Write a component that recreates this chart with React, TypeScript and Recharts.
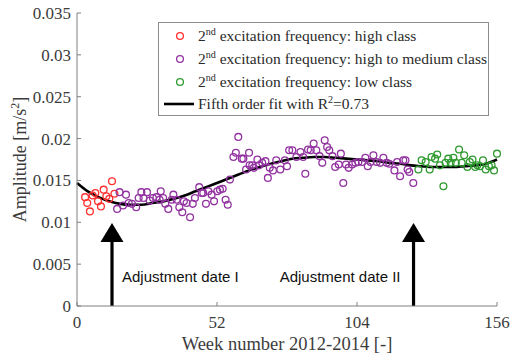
import {
  ComposedChart,
  Line,
  ReferenceLine,
  Scatter,
  XAxis,
  YAxis,
} from "recharts";

const SERIF = '"Liberation Serif", "Times New Roman", serif';
const SANS = '"Liberation Sans", Arial, sans-serif';
const RED = "#ff3030";
const PURPLE = "#9232a0";
const GREEN = "#2f9a2f";
const AXIS = "#808080";
const TEXT = "#3c3c3c";

// 2nd excitation frequency: high class
const highWeeks = [3.0, 3.8, 4.8, 5.8, 6.8, 7.8, 8.9, 9.9, 10.9, 12.0, 13.0, 13.9];
const highAmp = [0.013, 0.0123, 0.0113, 0.0132, 0.0135, 0.0125, 0.0119, 0.0139, 0.0131, 0.0128, 0.0149, 0.0134];

// high to medium class
const midWeeks = [
  14.9, 15.8, 17.1, 18.2, 19.2, 20.4, 22.0, 22.9, 23.9, 24.7, 26.0, 27.0, 28.2, 29.5, 30.7,
  31.1, 32.0, 32.8, 33.9, 35.2, 35.8, 37.0, 38.0, 39.1, 39.7, 40.7, 42.0, 43.0, 43.8, 45.4,
  46.3, 46.9, 47.9, 48.8, 50.0, 50.9, 52.1, 53.1, 54.1, 55.2, 56.0, 56.8, 58.1, 59.0, 59.9,
  61.2, 61.8, 62.8, 63.9, 64.1, 65.1, 65.7, 67.0, 67.6, 68.8, 70.0, 70.9, 71.6, 72.8, 74.0,
  75.5, 77.2, 78.0, 78.8, 80.0, 81.5, 83.0, 84.0, 84.8, 85.8, 86.8, 87.9, 88.9, 90.1, 91.1,
  92.0, 92.9, 93.7, 94.9, 95.9, 97.2, 98.0, 98.9, 99.9, 100.9, 102.2, 103.4, 104.5, 105.9,
  107.1, 108.0, 109.0, 110.1, 111.3, 112.6, 113.8, 115.0, 116.0, 117.9, 118.9, 120.0, 121.2,
  122.0, 122.8, 123.4, 124.9,
];
const midAmp = [
  0.0116, 0.0136, 0.012, 0.0133, 0.0123, 0.0122, 0.0118, 0.0129, 0.0136, 0.0129, 0.0136, 0.0126, 0.0129, 0.013, 0.0127,
  0.0137, 0.0129, 0.0122, 0.0116, 0.0127, 0.0133, 0.0127, 0.0118, 0.0112, 0.0125, 0.0123, 0.0106, 0.0122, 0.0129, 0.0142,
  0.0135, 0.0135, 0.0122, 0.0137, 0.0133, 0.0125, 0.0137, 0.0139, 0.014, 0.0127, 0.0121, 0.0151, 0.0178, 0.0183, 0.0202,
  0.0176, 0.0176, 0.0163, 0.0183, 0.0168, 0.0168, 0.0165, 0.0175, 0.0168, 0.0171, 0.0173, 0.0153, 0.0165, 0.0162, 0.0174,
  0.0163, 0.0174, 0.0167, 0.0186, 0.0186, 0.0178, 0.0184, 0.0178, 0.0158, 0.0187, 0.0186, 0.0194, 0.0186, 0.0179, 0.0171,
  0.0198, 0.019, 0.0186, 0.0179, 0.0166, 0.0169, 0.0182, 0.0147, 0.0169, 0.0165, 0.0169, 0.0171, 0.0172, 0.0172,
  0.0177, 0.0167, 0.0172, 0.018, 0.0172, 0.0171, 0.0177, 0.0171, 0.017, 0.0162, 0.0172, 0.0155, 0.0174,
  0.0174, 0.0163, 0.016, 0.0147,
];

// low class
const lowWeeks = [
  126.8, 128.0, 129.5, 131.0, 131.7, 133.0, 133.8, 134.8, 136.1, 136.9, 137.9, 138.8, 139.8, 140.7,
  141.9, 142.9, 143.8, 145.0, 145.9, 146.9, 147.9, 148.7, 149.7, 150.8, 151.8, 153.0, 154.0, 154.9, 156.0,
];
const lowAmp = [
  0.0163, 0.0174, 0.0172, 0.0163, 0.0178, 0.0176, 0.0181, 0.0168, 0.0143, 0.0171, 0.0176, 0.0171, 0.0177, 0.0171,
  0.0187, 0.0171, 0.018, 0.0166, 0.0172, 0.0175, 0.0166, 0.0168, 0.0167, 0.0174, 0.0163, 0.0167, 0.0168, 0.0162, 0.0182,
];

// fifth order fit
const fitWeeks = [
  0, 4, 8, 12, 16, 20, 24, 28, 32, 36, 40, 44, 48, 52, 56, 60, 64, 68, 72, 76,
  80, 84, 88, 92, 96, 100, 104, 108, 112, 116, 120, 124, 128, 132, 136, 140, 144, 148, 152, 156,
];
const fitAmp = [
  0.0147, 0.0137, 0.013, 0.0125, 0.0122, 0.0121, 0.0121, 0.0123, 0.0125, 0.0128, 0.0132, 0.0137, 0.0142, 0.0147,
  0.0152, 0.0157, 0.0162, 0.0166, 0.017, 0.0173, 0.0176, 0.0177, 0.0178, 0.0178, 0.0177, 0.0176, 0.0175, 0.0174,
  0.0173, 0.0171, 0.017, 0.0168, 0.0167, 0.0166, 0.0166, 0.0166, 0.0167, 0.0168, 0.017, 0.0175,
];

const X_TICKS = [0, 52, 104, 156];
const Y_TICKS = [0, 0.005, 0.01, 0.015, 0.02, 0.025, 0.03, 0.035];

const adjustWeeks = [13, 125];
const adjustLabels = ["Adjustment date I", "Adjustment date II"];
const ARROW_TIP = 0.0099;

const toPoints = (weeks: number[], amp: number[]) =>
  weeks.map((week, i) => ({ week, amp: amp[i] }));

const ring = (color: string) => (p: any) =>
  <circle cx={p.cx} cy={p.cy} r={3.4} fill="none" stroke={color} strokeWidth={1.3} />;

function YTick({ x, y, payload }: any) {
  return (
    <g>
      <line x1={x} x2={x + 4} y1={y} y2={y} stroke={AXIS} />
      <text x={x - 6} y={y} dy={6} textAnchor="end" fontSize={17} fontFamily={SERIF} fill={TEXT}>
        {String(payload.value)}
      </text>
    </g>
  );
}

function XTick({ x, y, payload }: any) {
  return (
    <g>
      <line x1={x} x2={x} y1={y} y2={y - 4} stroke={AXIS} />
      <text x={x} y={y + 22} textAnchor="middle" fontSize={17} fontFamily={SERIF} fill={TEXT}>
        {String(payload.value)}
      </text>
    </g>
  );
}

const yLabel = (props: any) => {
  const vb = props.viewBox;
  const cx = vb.x + 26;
  const cy = vb.y + vb.height / 2;
  return (
    <text x={cx} y={cy} transform={`rotate(-90 ${cx} ${cy})`} textAnchor="middle"
      fontSize={18} fontFamily={SERIF} fill={TEXT}>
      Amplitude [m/s<tspan dy={-7} fontSize={12}>2</tspan><tspan dy={7}>]</tspan>
    </text>
  );
};

const xLabel = (props: any) => {
  const vb = props.viewBox;
  return (
    <text x={vb.x + vb.width / 2} y={vb.y + vb.height - 10} textAnchor="middle"
      fontSize={18.5} fontFamily={SERIF} fill={TEXT}>
      Week number 2012-2014 [-]
    </text>
  );
};

const arrow = (label: string, side: "left" | "right") => (p: any) => {
  const x = p.x1;
  const bottom = Math.max(p.y1, p.y2);
  const tip = Math.min(p.y1, p.y2);
  const headH = 19;
  const headW = 23;
  return (
    <g>
      <line x1={x} x2={x} y1={bottom} y2={tip + headH - 1} stroke="#000" strokeWidth={3.2} />
      <polygon points={`${x},${tip} ${x - headW / 2},${tip + headH} ${x + headW / 2},${tip + headH}`} fill="#000" />
      <text x={side === "right" ? x + 10 : x - 13} y={bottom - 24}
        textAnchor={side === "right" ? "start" : "end"} fontSize={15} fontFamily={SANS} fill="#111">
        {label}
      </text>
    </g>
  );
};

function LegendBox() {
  const rows = [
    { color: RED, text: "high class" },
    { color: PURPLE, text: "high to medium class" },
    { color: GREEN, text: "low class" },
  ];
  const rowStyle = (top: number): React.CSSProperties => ({
    position: "absolute", left: 5, top, height: 22, display: "flex", alignItems: "center", whiteSpace: "nowrap",
  });
  return (
    <div style={{
      position: "absolute", left: 158, top: 22, width: 331, height: 94, boxSizing: "border-box",
      border: "1px solid #8c8c8c", background: "#fff", fontFamily: SERIF, fontSize: 15.5, color: "#2a2a2a",
    }}>
      {rows.map((r, i) => (
        <div key={r.text} style={rowStyle(2 + i * 23)}>
          <svg width={30} height={22} style={{ marginRight: 4 }}>
            <circle cx={16} cy={11} r={3.4} fill="none" stroke={r.color} strokeWidth={1.3} />
          </svg>
          <span>2<sup style={{ fontSize: "0.65em" }}>nd</sup> excitation frequency: {r.text}</span>
        </div>
      ))}
      <div style={rowStyle(70)}>
        <svg width={30} height={22} style={{ marginRight: 4 }}>
          <line x1={0} x2={30} y1={11} y2={11} stroke="#000" strokeWidth={2.6} />
        </svg>
        <span>Fifth order fit with R<sup style={{ fontSize: "0.65em" }}>2</sup>=0.73</span>
      </div>
    </div>
  );
}

export default function App() {
  return (
    <div style={{ position: "absolute", left: 0, top: 0, width: 511, height: 360, background: "#fff" }}>
      <ComposedChart width={511} height={360} margin={{ top: 13, right: 14, bottom: 0, left: 0 }}>
        <XAxis
          type="number"
          dataKey="week"
          domain={[0, 156]}
          ticks={X_TICKS}
          interval={0}
          height={54}
          tickSize={0}
          tickMargin={0}
          tick={<XTick />}
          axisLine={{ stroke: AXIS }}
          label={xLabel}
        />
        <YAxis
          type="number"
          dataKey="amp"
          domain={[0, 0.035]}
          ticks={Y_TICKS}
          interval={0}
          width={77}
          tickSize={0}
          tickMargin={0}
          tick={<YTick />}
          axisLine={{ stroke: AXIS }}
          label={yLabel}
        />
        <Scatter data={toPoints(highWeeks, highAmp)} dataKey="amp" shape={ring(RED)} isAnimationActive={false} />
        <Scatter data={toPoints(midWeeks, midAmp)} dataKey="amp" shape={ring(PURPLE)} isAnimationActive={false} />
        <Scatter data={toPoints(lowWeeks, lowAmp)} dataKey="amp" shape={ring(GREEN)} isAnimationActive={false} />
        <Line
          data={toPoints(fitWeeks, fitAmp)}
          dataKey="amp"
          type="monotone"
          stroke="#000"
          strokeWidth={2.6}
          dot={false}
          isAnimationActive={false}
        />
        {adjustWeeks.map((w, i) => (
          <ReferenceLine
            key={w}
            segment={[{ x: w, y: 0 }, { x: w, y: ARROW_TIP }]}
            shape={arrow(adjustLabels[i], i === 0 ? "right" : "left")}
          />
        ))}
      </ComposedChart>
      <LegendBox />
    </div>
  );
}
